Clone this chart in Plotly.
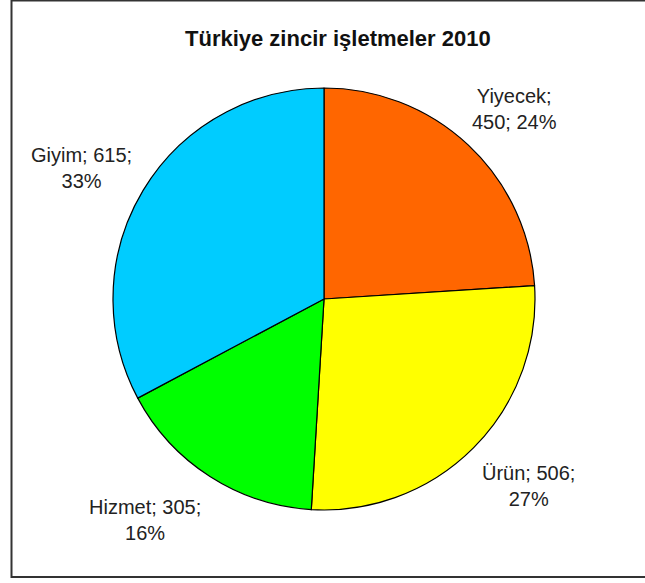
import plotly.graph_objects as go

W, H = 645, 583

categories = ["Yiyecek", "Ürün", "Hizmet", "Giyim"]
values = [450, 506, 305, 615]
percents = ["24%", "27%", "16%", "33%"]
colors = ["#FF6600", "#FFFF00", "#00FF00", "#00CCFF"]

# label text centre positions (pixels) and line breaks
label_pos = [(514, 109), (528, 486), (145, 520), (81, 168)]
label_texts = [
    f"{categories[0]};<br>{values[0]}; {percents[0]}",
    f"{categories[1]}; {values[1]};<br>{percents[1]}",
    f"{categories[2]}; {values[2]};<br>{percents[2]}",
    f"{categories[3]}; {values[3]};<br>{percents[3]}",
]

cx, cy, r = 324, 299, 211

def px(x):
    return x / W

def py(y):
    return 1 - y / H

fig = go.Figure(go.Pie(
    labels=categories,
    values=values,
    sort=False,
    direction="clockwise",
    rotation=0,
    marker=dict(colors=colors, line=dict(color="#000000", width=1.2)),
    textinfo="none",
    hoverinfo="label+value+percent",
    showlegend=False,
    domain=dict(x=[px(cx - r), px(cx + r)], y=[py(cy + r), py(cy - r)]),
))

annotations = [
    dict(text="<b>Türkiye zincir işletmeler 2010</b>", x=px(338), y=py(39),
         xref="paper", yref="paper", showarrow=False, xanchor="center", yanchor="middle",
         font=dict(family="Liberation Sans, Arial, sans-serif", size=22, color="#111111"))
]
for (lx, ly), t in zip(label_pos, label_texts):
    annotations.append(dict(
        text=t, x=px(lx), y=py(ly), xref="paper", yref="paper", showarrow=False,
        xanchor="center", yanchor="middle", align="center",
        font=dict(family="Liberation Sans, Arial, sans-serif", size=20, color="#222222"),
    ))

shapes = [
    dict(type="rect", xref="paper", yref="paper", x0=px(11.5), x1=px(W + 5), y0=py(577), y1=py(0.5),
         line=dict(color="#333333", width=2), fillcolor="rgba(0,0,0,0)"),
]

fig.update_layout(
    width=W, height=H,
    margin=dict(l=0, r=0, t=0, b=0),
    paper_bgcolor="#FFFFFF",
    plot_bgcolor="#FFFFFF",
    annotations=annotations,
    shapes=shapes,
)

fig.write_html("out.html")
